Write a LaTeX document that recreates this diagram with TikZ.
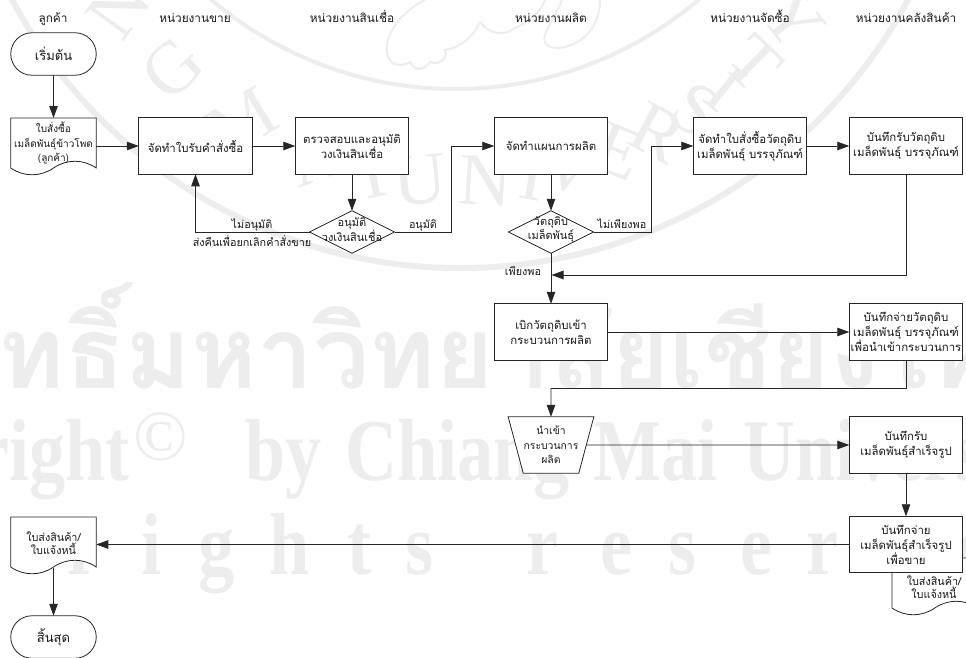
\documentclass[tikz,border=0pt]{standalone}
\usepackage{fontspec}
\setmainfont[Script=Thai]{Loma}
\newfontfamily\wmserif{Liberation Serif}[Scale=1]
\usetikzlibrary{arrows.meta,shapes.geometric,shapes.misc}
\tikzset{
  every node/.style={inner sep=0pt,outer sep=0pt,align=center,text=black!90},
  boxn/.style={draw=black!85,fill=white,line width=0.8pt,minimum width=113.5pt,minimum height=56.5pt,font=\fontsize{11.4}{15}\selectfont},
  term/.style={rounded rectangle,draw=black!85,fill=white,line width=0.8pt,minimum width=85.5pt,minimum height=42.5pt,font=\fontsize{13}{15}\selectfont},
  docn/.style={minimum width=85.5pt,minimum height=50pt,font=\fontsize{10}{14.5}\selectfont},
  docs/.style={font=\fontsize{10.8}{13}\selectfont},
  dec/.style={diamond,aspect=2,draw=black!85,fill=white,line width=0.8pt,minimum width=85pt,minimum height=42.5pt},
  dect/.style={font=\fontsize{11}{14}\selectfont},
  head/.style={anchor=base,font=\fontsize{11.8}{12}\selectfont},
  lab/.style={anchor=base,font=\fontsize{10.8}{12}\selectfont},
  conn/.style={draw=black!85,line width=0.8pt,-{Triangle[length=12pt,width=8.5pt]}},
  plain/.style={draw=black!85,line width=0.8pt},
  wm/.style={text=black!7},
  wmb/.style={wm,xscale=0.82,font=\wmserif\bfseries\fontsize{88}{90}\selectfont},
  wml/.style={draw=black!7,line width=2pt,line cap=round}
}
\newcommand{\wavedoc}[1]{\draw[plain,fill=white] (#1.south west) -- (#1.north west) -- (#1.north east) -- (#1.south east)
  .. controls +(-13,-9) and +(13,-9) .. ++(-42.75,0) .. controls +(-13,9) and +(13,9) .. ++(-42.75,0) -- cycle;}
\begin{document}
\begin{tikzpicture}[x=1pt,y=-1pt]
\useasboundingbox (0,0) rectangle (966,657);
\clip (0,0) rectangle (966,657);
\fill[white] (0,0) rectangle (966,657);
% watermark
\draw[draw=black!7,line width=6pt] (460,-240) circle (508);
\draw[draw=black!7,line width=4pt] (455,-288) circle (377);
\foreach \ch/\ang in {N/-54,G/-43,M/-31,A/-20,I/-12,U/-5.4,N/3.5,I/10,V/15,E/22,R/28,S/34,I/39,T/44,Y/52}{
  \node[wm,rotate=-\ang,font=\wmserif\fontsize{74}{74}\selectfont] at ({460+422*sin(\ang)},{-240+422*cos(\ang)}) {\ch};
}
\draw[wml] (425,0) .. controls (400,12) and (385,35) .. (387,52) .. controls (388,65) and (400,68) .. (410,62) .. controls (415,72) and (425,70) .. (430,62) .. controls (440,66) and (448,58) .. (445,50) .. controls (460,48) and (475,35) .. (480,22);
\draw[wml] (480,22) .. controls (490,35) and (505,36) .. (515,28) .. controls (530,22) and (540,12) .. (545,0);
\draw[wml] (600,0) .. controls (600,25) and (585,42) .. (565,47) .. controls (550,50) and (542,45) .. (545,35) .. controls (550,22) and (558,10) .. (562,0);
\node[wm,anchor=base west,font=\fontsize{100}{100}\selectfont\bfseries] at (-192,388) {ลิขสิทธิ์มหาวิทยาลัยเชียงใหม่};
\node[wmb,anchor=base east] at (130,480) {Copyright};
\node[wm,anchor=base west,font=\wmserif\fontsize{72}{72}\selectfont] at (133,460) {©};
\node[wmb,anchor=base west] at (245,480) {by};
\node[wmb,anchor=base west] at (345,480) {Chiang};
\node[wmb,anchor=base west] at (593,480) {Mai};
\node[wmb,anchor=base west] at (743,480) {University};
\foreach \ch/\px in {r/84,i/152,g/217,h/290,t/360,s/420,r/543,e/617,s/683,e/757,r/823,v/900,e/975}{
  \node[wmb,anchor=base] at (\px,574) {\ch};
}
% headers
\node[head] (h1) at (53,22) {ลูกค้า};
\node[head] (h2) at (195,22) {หน่วยงานขาย};
\node[head] (h3) at (352,22) {หน่วยงานสินเชื่อ};
\node[head] (h4) at (551,22) {หน่วยงานผลิต};
\node[head] (h5) at (750,22) {หน่วยงานจัดซื้อ};
\node[head] (h6) at (906,22) {หน่วยงานคลังสินค้า};
% right document behind box10
\node[docn] (doc4) at (934.75,583) {};
\wavedoc{doc4}
\node[docs] (doc4t) at (934,587) {ใบส่งสินค้า/\\ใบแจ้งหนี้};
% shapes
\node[term] (start) at (53.5,54) {เริ่มต้น};
\node[docn] (doc1) at (53.5,143) {};
\wavedoc{doc1}
\node[docn] (doc1t) at (53.5,143) {ใบสั่งซื้อ\\เมล็ดพันธุ์ข้าวโพด\\(ลูกค้า)};
\node[boxn] (b2) at (195.5,146) {จัดทำใบรับคำสั่งซื้อ};
\node[boxn] (b3) at (352,146) {ตรวจสอบและอนุมัติ\\วงเงินสินเชื่อ};
\node[dec] (d1) at (352,232) {};
\node[dect] (d1t) at (352,230) {อนุมัติ\\วงเงินสินเชื่อ};
\node[boxn] (b4) at (551,146) {จัดทำแผนการผลิต};
\node[dec] (d2) at (551,232) {};
\node[dect] (d2t) at (551,230) {วัตถุดิบ\\เมล็ดพันธุ์};
\node[boxn] (b5) at (750,146) {จัดทำใบสั่งซื้อวัตถุดิบ\\เมล็ดพันธุ์ บรรจุภัณฑ์};
\node[boxn] (b6) at (906,146) {บันทึกรับวัตถุดิบ\\เมล็ดพันธุ์ บรรจุภัณฑ์};
\node[boxn] (b7) at (551,332) {เบิกวัตถุดิบเข้า\\กระบวนการผลิต};
\node[boxn] (b8) at (906,332) {บันทึกจ่ายวัตถุดิบ\\เมล็ดพันธุ์ บรรจุภัณฑ์\\เพื่อนำเข้ากระบวนการ};
\node[trapezium,trapezium stretches=true,shape border rotate=180,trapezium left angle=68.5,trapezium right angle=68.5,draw=black!85,fill=white,line width=0.8pt,minimum width=86pt,minimum height=56.5pt,font=\fontsize{10.4}{14.5}\selectfont] (tr) at (551,445) {นำเข้า\\กระบวนการ\\ผลิต};
\node[boxn] (b9) at (906,445) {บันทึกรับ\\เมล็ดพันธุ์สำเร็จรูป};
\node[boxn] (b10) at (906,544.5) {บันทึกจ่าย\\เมล็ดพันธุ์สำเร็จรูป\\เพื่อขาย};
\node[docn] (doc3) at (53.5,542) {};
\wavedoc{doc3}
\node[docs] (doc3t) at (53.5,543.5) {ใบส่งสินค้า/\\ใบแจ้งหนี้};
\node[term] (stop) at (53.5,637) {สิ้นสุด};
% free corners
\coordinate (v1) at (451,146);
\coordinate (v2) at (651,146);
\coordinate (j1) at (551.5,275);
\coordinate (j2) at (551,388);
% connectors
\draw[conn] (start) -- (doc1);
\draw[conn] (doc1.east |- b2.west) -- (b2.west);
\draw[conn] (b2) -- (b3);
\draw[conn] (b3) -- (d1);
\draw[conn] (d1.west) -| (b2.south);
\draw[plain] (d1.east) -| (v1);
\draw[conn] (v1) -- (b4.west);
\draw[conn] (b4) -- (d2);
\draw[plain] (d2.east) -| (v2);
\draw[conn] (v2) -- (b5.west);
\draw[conn] (b5) -- (b6);
\draw[conn] (d2.south) -- (b7.north);
\draw[conn] (b6.south) |- (j1);
\draw[conn] (b7) -- (b8);
\draw[plain] (b8.south) |- (j2);
\draw[conn] (j2) -- (tr.north);
\draw[conn] (tr.east) -- (b9.west);
\draw[conn] (b9) -- (b10);
\draw[conn] (b10.west) -- (doc3.east |- b10.west);
\draw[conn] (doc3.south) ++(0,1) -- (stop.north);
% labels
\node[lab] (l1) at (252,228) {ไม่อนุมัติ};
\node[lab] (l2) at (252,246) {ส่งคืนเพื่อยกเลิกคำสั่งขาย};
\node[lab] (l3) at (423,228) {อนุมัติ};
\node[lab] (l4) at (622,228) {ไม่เพียงพอ};
\node[lab] (l5) at (523,275) {เพียงพอ};
\end{tikzpicture}
\end{document}
